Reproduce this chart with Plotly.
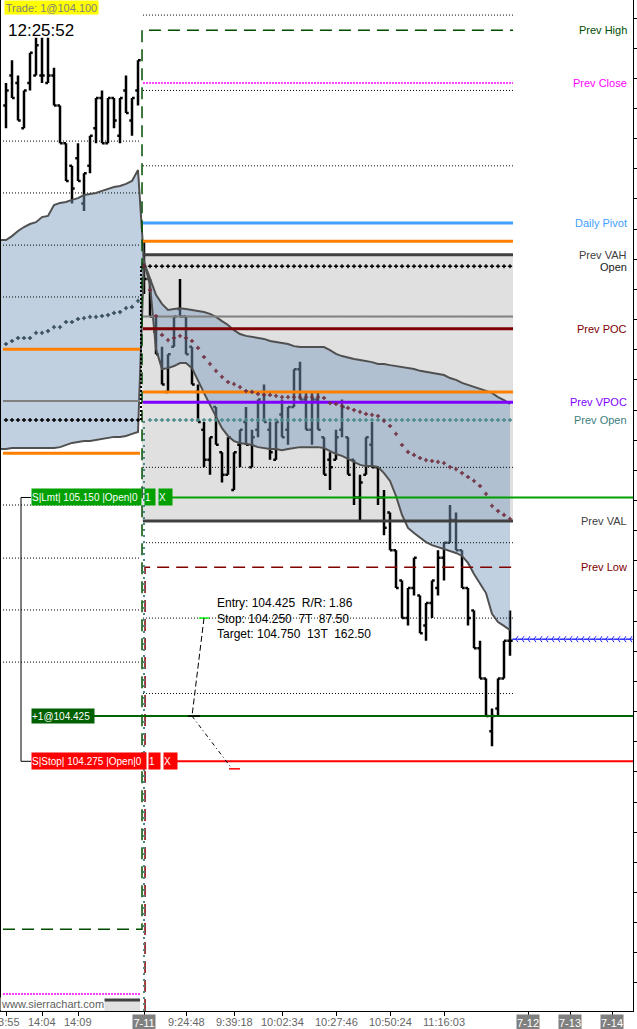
import plotly.graph_objects as go

FONT = "Liberation Sans, Arial, sans-serif"

# ---- price bars: 23 bars from the 7-10 close, then the 7-11 session ----
bar_open = [106.45, 106.55, 106.525, 106.375, 106.525, 106.55, 106.55, 106.525, 106.55, 106.45,
            106.325, 106.25, 106.275, 106.125, 106.25, 106.375, 106.475, 106.325, 106.475, 106.35,
            106.5, 106.4, 106.5,
            105.925, 105.875, 105.7, 105.6, 105.5, 105.65, 105.775, 105.75, 105.65, 105.5,
            105.375, 105.275, 105.45, 105.3, 105.225, 105.175, 105.325, 105.4, 105.25, 105.375,
            105.5, 105.375, 105.275, 105.425, 105.375, 105.45, 105.575, 105.475, 105.375, 105.475,
            105.35, 105.275, 105.275, 105.375, 105.35, 105.275, 105.15, 105.225, 105.325, 105.25,
            105.15, 105.1, 104.975, 104.875, 104.75, 104.85, 104.825, 104.725, 104.8, 104.85,
            104.95, 105.0, 105.075, 104.975, 104.85, 104.775, 104.65, 104.55, 104.375, 104.45,
            104.55, 104.675]
bar_high = [106.525, 106.6, 106.55, 106.5, 106.625, 106.675, 106.675, 106.675, 106.575, 106.45,
            106.325, 106.25, 106.325, 106.225, 106.35, 106.475, 106.5, 106.475, 106.475, 106.475,
            106.55, 106.475, 106.6,
            106.0, 105.875, 105.75, 105.65, 105.625, 105.75, 105.875, 105.75, 105.65, 105.525,
            105.4, 105.35, 105.45, 105.3, 105.35, 105.3, 105.375, 105.45, 105.375, 105.475,
            105.525, 105.4, 105.4, 105.475, 105.45, 105.575, 105.6, 105.5, 105.5, 105.5,
            105.35, 105.3, 105.375, 105.475, 105.35, 105.275, 105.225, 105.35, 105.4, 105.25,
            105.175, 105.1, 104.975, 104.875, 104.85, 104.95, 104.825, 104.8, 104.875, 104.975,
            105.0, 105.125, 105.1, 104.975, 104.85, 104.775, 104.675, 104.55, 104.45, 104.55,
            104.675, 104.775]
bar_low = [106.375, 106.475, 106.4, 106.375, 106.5, 106.55, 106.525, 106.525, 106.45, 106.325,
           106.2, 106.125, 106.2, 106.1, 106.225, 106.325, 106.325, 106.325, 106.375, 106.325,
           106.425, 106.35, 106.45,
           105.825, 105.75, 105.625, 105.525, 105.5, 105.65, 105.75, 105.625, 105.525, 105.4,
           105.25, 105.225, 105.325, 105.2, 105.225, 105.175, 105.25, 105.325, 105.25, 105.35,
           105.4, 105.275, 105.275, 105.35, 105.325, 105.45, 105.475, 105.375, 105.325, 105.375,
           105.225, 105.175, 105.275, 105.35, 105.225, 105.125, 105.075, 105.225, 105.25, 105.125,
           105.025, 104.975, 104.85, 104.75, 104.725, 104.825, 104.7, 104.675, 104.75, 104.825,
           104.875, 105.0, 104.975, 104.85, 104.725, 104.65, 104.55, 104.425, 104.325, 104.425,
           104.55, 104.625]
bar_close = [106.5, 106.475, 106.4, 106.5, 106.625, 106.65, 106.55, 106.55, 106.45, 106.325,
             106.2, 106.175, 106.2, 106.225, 106.35, 106.475, 106.325, 106.475, 106.4, 106.475,
             106.425, 106.475, 106.6,
             105.875, 105.75, 105.625, 105.525, 105.625, 105.75, 105.75, 105.625, 105.525, 105.4,
             105.275, 105.35, 105.325, 105.225, 105.35, 105.3, 105.375, 105.325, 105.35, 105.475,
             105.4, 105.3, 105.4, 105.35, 105.45, 105.575, 105.475, 105.375, 105.475, 105.375,
             105.225, 105.25, 105.35, 105.45, 105.225, 105.15, 105.2, 105.35, 105.25, 105.15,
             105.05, 104.975, 104.85, 104.75, 104.85, 104.95, 104.7, 104.8, 104.875, 104.95,
             105.0, 105.075, 104.975, 104.85, 104.75, 104.65, 104.55, 104.425, 104.425, 104.55,
             104.675, 104.675]

# ---- volume band (upper / lower) and VWAP, one value per bar ----
band_upper = [106.004, 106.017, 106.034, 106.047, 106.057, 106.063, 106.080, 106.084, 106.120, 106.127,
              106.130, 106.137, 106.143, 106.153, 106.157, 106.160, 106.167, 106.173, 106.180, 106.183,
              106.190, 106.200, 106.236,
              105.931, 105.875, 105.822, 105.792, 105.772, 105.775, 105.778, 105.775, 105.772, 105.769,
              105.765, 105.759, 105.749, 105.735, 105.722, 105.705, 105.692, 105.686, 105.682, 105.679,
              105.676, 105.669, 105.666, 105.662, 105.659, 105.652, 105.649, 105.649, 105.649, 105.649,
              105.649, 105.639, 105.626, 105.619, 105.613, 105.609, 105.606, 105.603, 105.599, 105.593,
              105.593, 105.589, 105.586, 105.583, 105.579, 105.576, 105.570, 105.566, 105.563, 105.560,
              105.556, 105.546, 105.540, 105.530, 105.523, 105.516, 105.510, 105.503, 105.497, 105.483,
              105.473, 105.460]
band_lower = [105.311, 105.314, 105.314, 105.314, 105.314, 105.314, 105.314, 105.314, 105.314, 105.317,
              105.324, 105.331, 105.334, 105.337, 105.337, 105.341, 105.344, 105.347, 105.351, 105.351,
              105.354, 105.361, 105.367,
              105.931, 105.855, 105.642, 105.576, 105.579, 105.586, 105.596, 105.596, 105.579, 105.536,
              105.497, 105.457, 105.417, 105.380, 105.354, 105.337, 105.331, 105.327, 105.324, 105.317,
              105.314, 105.311, 105.311, 105.307, 105.311, 105.314, 105.317, 105.317, 105.317, 105.317,
              105.314, 105.304, 105.294, 105.288, 105.278, 105.268, 105.258, 105.254, 105.254, 105.251,
              105.231, 105.205, 105.155, 105.092, 105.049, 105.032, 105.016, 105.002, 104.992, 104.986,
              104.979, 104.973, 104.966, 104.956, 104.933, 104.896, 104.866, 104.833, 104.764, 104.737,
              104.724, 104.710]
vwap_left = [105.659, 105.669, 105.679, 105.679, 105.679, 105.696, 105.696, 105.702, 105.715, 105.715,
             105.732, 105.732, 105.742, 105.745, 105.749, 105.749, 105.752, 105.755, 105.762, 105.765,
             105.778, 105.782, 105.802]
vwap_right = [105.918, 105.838, 105.752, 105.689, 105.672, 105.679, 105.686, 105.679, 105.669, 105.646,
              105.616, 105.593, 105.570, 105.550, 105.533, 105.526, 105.516, 105.503, 105.500, 105.493,
              105.490, 105.490, 105.487, 105.483, 105.483, 105.483, 105.483, 105.483, 105.483, 105.483,
              105.480, 105.463, 105.460, 105.453, 105.447, 105.440, 105.434, 105.427, 105.424, 105.420,
              105.404, 105.387, 105.361, 105.324, 105.301, 105.291, 105.281, 105.274, 105.271, 105.268,
              105.264, 105.251, 105.244, 105.231, 105.218, 105.205, 105.188, 105.162, 105.122, 105.105,
              105.092, 105.079]

# ---- 7-11 levels ----
prev_high = 106.70
prev_close = 106.525
daily_pivot = 106.06
upper_orange = 106.00
prev_vah = 105.955
day_open = 105.917
mid_gray = 105.75
prev_poc = 105.71
lower_orange = 105.50
prev_vpoc = 105.466
prev_open = 105.407
prev_val = 105.072
prev_low = 104.919
last_price = 104.68
right_grid = [106.75, 106.5, 106.25, 106.0, 105.75, 105.5, 105.25, 105.0, 104.75, 104.5]

# ---- 7-10 levels ----
left_grid = [106.332, 106.160, 105.987, 105.815, 105.642, 105.470, 105.297, 105.125, 104.949, 104.777, 104.604]
left_orange = [105.642, 105.297]
left_gray = 105.470
left_open = 105.407
left_prev_high = 103.718
left_prev_close = 103.503
left_vah = 103.483

# ---- orders / trade ----
limit_price = 105.15
entry_price = 104.425
stop_price = 104.275
rr_target = 104.75
rr_stop = 104.25

time_ticks = [0, 6, 12, 30, 38, 46, 55, 64, 73]
time_labels = ["13:55", "14:04", "14:09", "9:24:48", "9:39:18", "10:02:34", "10:27:46", "10:50:24", "11:16:03"]
date_ticks = [23, 87, 94, 101]
date_labels = ["7-11", "7-12", "7-13", "7-14"]

Y_MIN, Y_MAX = 103.4468, 106.8
X_MIN, X_MAX = -1, 104.5

n_left = len(vwap_left)
bars_x = list(range(len(bar_open)))
left_x = bars_x[:n_left]
right_x = bars_x[n_left:]

fig = go.Figure()


def seg(xs, ys, color, width=1, dash="solid"):
    fig.add_trace(go.Scatter(x=xs, y=ys, mode="lines", line=dict(color=color, width=width, dash=dash),
                             hoverinfo="skip", showlegend=False))


def hline(y, x0, x1, color, width=1, dash="solid"):
    seg([x0, x1], [y, y], color, width, dash)


# value area boxes
fig.add_shape(type="rect", x0=22.67, x1=84.5, y0=prev_val, y1=prev_vah,
              fillcolor="#E0E0E0", line_width=0, layer="below")
fig.add_shape(type="rect", x0=-1, x1=22.33, y0=Y_MIN - 0.1, y1=left_vah,
              fillcolor="#E0E0E0", line_width=0, layer="below")

# band fill
fig.add_trace(go.Scatter(x=[-1] + bars_x + bars_x[::-1] + [-1],
                         y=[band_upper[0]] + band_upper + band_lower[::-1] + [band_lower[0]],
                         fill="toself", fillcolor="rgba(125,156,191,0.48)", mode="lines",
                         line=dict(width=0), hoverinfo="skip", showlegend=False))

# gridlines
for g in right_grid:
    hline(g, 22.83, 84.5, "black", 1, "1px,2px")
for g in left_grid:
    hline(g, -0.5, 22.33, "black", 1, "1px,2px")

# band edges
seg([-1] + bars_x, [band_upper[0]] + band_upper, "#505050", 2)
seg([-1] + bars_x, [band_lower[0]] + band_lower, "#505050", 2)

# 7-10 levels
for lv in left_orange:
    hline(lv, -0.5, 22.33, "#FF8000", 3)
hline(left_gray, -0.5, 22.33, "#808080", 2)
hline(left_prev_close, -0.5, 22.33, "#FF00FF", 1.5, "2px,1px")
hline(left_vah, -1, 22.33, "#404040", 3)

# 7-11 levels
RX0, RX1 = 22.83, 84.5
hline(daily_pivot, RX0, RX1, "#40A0FF", 3)
hline(upper_orange, RX0, RX1, "#FF8000", 3)
hline(prev_vah, RX0, RX1, "#404040", 3)
hline(mid_gray, RX0, RX1, "#808080", 2)
hline(prev_poc, RX0, RX1, "#800000", 3)
hline(lower_orange, RX0, RX1, "#FF8000", 3)
hline(prev_vpoc, RX0, RX1, "#8000FF", 3)
hline(prev_val, RX0, RX1, "#404040", 3)
hline(prev_close, RX0, RX1, "#FF00FF", 1.5, "2px,1px")

# stepped prev high / prev low / open connectors
seg([-0.5, 22.67, 22.67, 84.5], [left_prev_high, left_prev_high, prev_high, prev_high],
    "#004D00", 1.5, "12px,7px")
seg([23.17, 23.17, 84.5], [Y_MIN, prev_low, prev_low], "#800000", 1.5, "12px,7px")
seg([23.0, 23.0], [Y_MIN, prev_open], "#4A8A8A", 2, "2px,4px")
seg([22.5, 22.5], [left_open, day_open], "black", 2, "2px,2px")


# cross-dotted study lines
def crosses(xs, ys, color, size=3.5):
    fig.add_trace(go.Scatter(x=xs, y=ys, mode="markers",
                             marker=dict(symbol="cross", size=size, color=color, line=dict(width=0)),
                             hoverinfo="skip", showlegend=False))


crosses(left_x, [left_open] * len(left_x), "black")
crosses(right_x, [day_open] * len(right_x), "black")
crosses(right_x[1:], [prev_open] * (len(right_x) - 1), "#4A8A8A")
crosses(left_x, vwap_left, "#304858")
crosses(right_x, vwap_right, "#703040")

# bars
fig.add_trace(go.Ohlc(x=bars_x, open=bar_open, high=bar_high, low=bar_low, close=bar_close,
                      increasing=dict(line=dict(color="black", width=2.5)),
                      decreasing=dict(line=dict(color="black", width=2.5)),
                      tickwidth=0.45, hoverinfo="skip", showlegend=False))

# orders
hline(limit_price, 27.67, X_MAX, "#00A000", 2)
hline(entry_price, 14.5, X_MAX, "#006400", 2)
hline(stop_price, 28.33, X_MAX, "#FF0000", 2)
seg([4.17, 2.5, 2.5, 4.17], [limit_price, limit_price, stop_price, stop_price], "black", 1)

# risk / reward tool
hline(rr_target, 32.17, 33.83, "#00FF00", 1.5)
seg([33.0, 31.0], [rr_target, entry_price], "black", 1, "6px,3px")
hline(entry_price, 30.33, 32.33, "black", 1.5)
seg([31.0, 37.67], [entry_price, rr_stop], "black", 1, "4px,3px,1px,3px")
hline(rr_stop, 37.17, 39.0, "#FF0000", 1.5)

# last price marker
hline(last_price, 84.5, X_MAX, "#2020FF", 1)
arrow_x = list(range(85, 105))
fig.add_trace(go.Scatter(x=arrow_x, y=[last_price] * len(arrow_x), mode="markers",
                         marker=dict(symbol="y-left", size=5, color="#2020FF",
                                     line=dict(color="#2020FF", width=1)),
                         hoverinfo="skip", showlegend=False))

# right-hand level labels
labels = [
    (prev_high, "Prev High", "#004D00"),
    (prev_close, "Prev Close", "#FF00FF"),
    (daily_pivot, "Daily Pivot", "#40A0FF"),
    (prev_vah, "Prev VAH", "#404040"),
    (day_open - 0.004, "Open", "#202020"),
    (prev_poc, "Prev POC", "#800000"),
    (prev_vpoc, "Prev VPOC", "#8000FF"),
    (prev_open, "Prev Open", "#408080"),
    (prev_val, "Prev VAL", "#404040"),
    (prev_low, "Prev Low", "#800000"),
]
for y, txt, col in labels:
    fig.add_annotation(x=629 / 633, xref="paper", y=y, yref="y", text=txt, showarrow=False,
                       xanchor="right", yanchor="middle", font=dict(family=FONT, size=11, color=col))


def box(x, y, txt, bg, w, h=16):
    fig.add_annotation(x=x, y=y, xref="x", yref="y", text=txt, showarrow=False, xanchor="left",
                       yanchor="middle", align="left", bgcolor=bg, width=w, height=h, borderpad=0,
                       font=dict(family=FONT, size=10, color="white"))


box(4.17, limit_price, "S|Lmt| 105.150 |Open|0", "#00A000", 109)
box(23.0, limit_price, "1", "#00A000", 10)
box(25.33, limit_price, "X", "#00A000", 13)
box(4.17, entry_price, "+1@104.425", "#006000", 62, 14)
box(4.17, stop_price, "S|Stop| 104.275 |Open|0", "#FF0000", 114)
box(23.67, stop_price, "1", "#FF0000", 11)
box(26.17, stop_price, "X", "#FF0000", 13)

fig.add_annotation(x=34.83, y=rr_target, xref="x", yref="y", xanchor="left", yanchor="middle",
                   align="left", showarrow=False,
                   text="Entry: 104.425  R/R: 1.86<br>Stop: 104.250  7T  87.50<br>Target: 104.750  13T  162.50",
                   font=dict(family=FONT, size=12, color="black"))

# time labels under the axis
for tx, tl in zip(time_ticks, time_labels):
    fig.add_annotation(x=tx, y=0, xref="x", yref="paper", yanchor="top", yshift=-3, text=tl,
                       showarrow=False, font=dict(family=FONT, size=11, color="#666666"))

# date boxes on the time axis
for dx, dl in zip(date_ticks, date_labels):
    fig.add_annotation(x=dx, y=0, xref="x", yref="paper", yanchor="top", yshift=-3, text=dl,
                       showarrow=False, bgcolor="#808080", width=22, height=15, borderpad=0,
                       font=dict(family=FONT, size=11, color="white"))

# header texts
fig.add_annotation(x=4 / 633, y=1, xref="paper", yref="paper", xanchor="left", yanchor="top",
                   text="Trade: 1@104.100", showarrow=False, bgcolor="#FFFF00", width=93, height=13,
                   borderpad=0, font=dict(family=FONT, size=11, color="#808080"))
fig.add_annotation(x=6 / 633, y=1 - 19 / 1011, xref="paper", yref="paper", xanchor="left", yanchor="top",
                   text="12:25:52", showarrow=False, font=dict(family=FONT, size=17, color="black"))
fig.add_annotation(x=0, y=0, xref="paper", yref="paper", xanchor="left", yanchor="bottom",
                   text="www.sierrachart.com", showarrow=False, bgcolor="white", height=12,
                   borderpad=0, font=dict(family=FONT, size=11, color="#606060"))

fig.add_shape(type="line", xref="paper", yref="paper", x0=0, x1=0, y0=0, y1=1,
              line=dict(color="black", width=2))

fig.update_layout(
    width=637, height=1029,
    margin=dict(l=0, r=4, t=0, b=18),
    plot_bgcolor="white", paper_bgcolor="white",
    showlegend=False,
    xaxis=dict(type="linear", range=[X_MIN, X_MAX], showgrid=False, zeroline=False,
               showline=True, linecolor="black", linewidth=1, ticks="outside", ticklen=4,
               tickcolor="black", tickvals=time_ticks + date_ticks,
               ticktext=[""] * (len(time_ticks) + len(date_ticks)),
               rangeslider=dict(visible=False), fixedrange=True, automargin=False),
    yaxis=dict(range=[Y_MIN, Y_MAX], side="right", showgrid=False, zeroline=False,
               showline=True, linecolor="black", linewidth=1, ticks="outside", ticklen=4,
               tickcolor="black", showticklabels=False, tick0=106.74, dtick=0.1,
               fixedrange=True, automargin=False),
)

fig.write_html("out.html", config={"displayModeBar": False},
               post_script="document.body.style.margin='0';document.body.style.padding='0';")
